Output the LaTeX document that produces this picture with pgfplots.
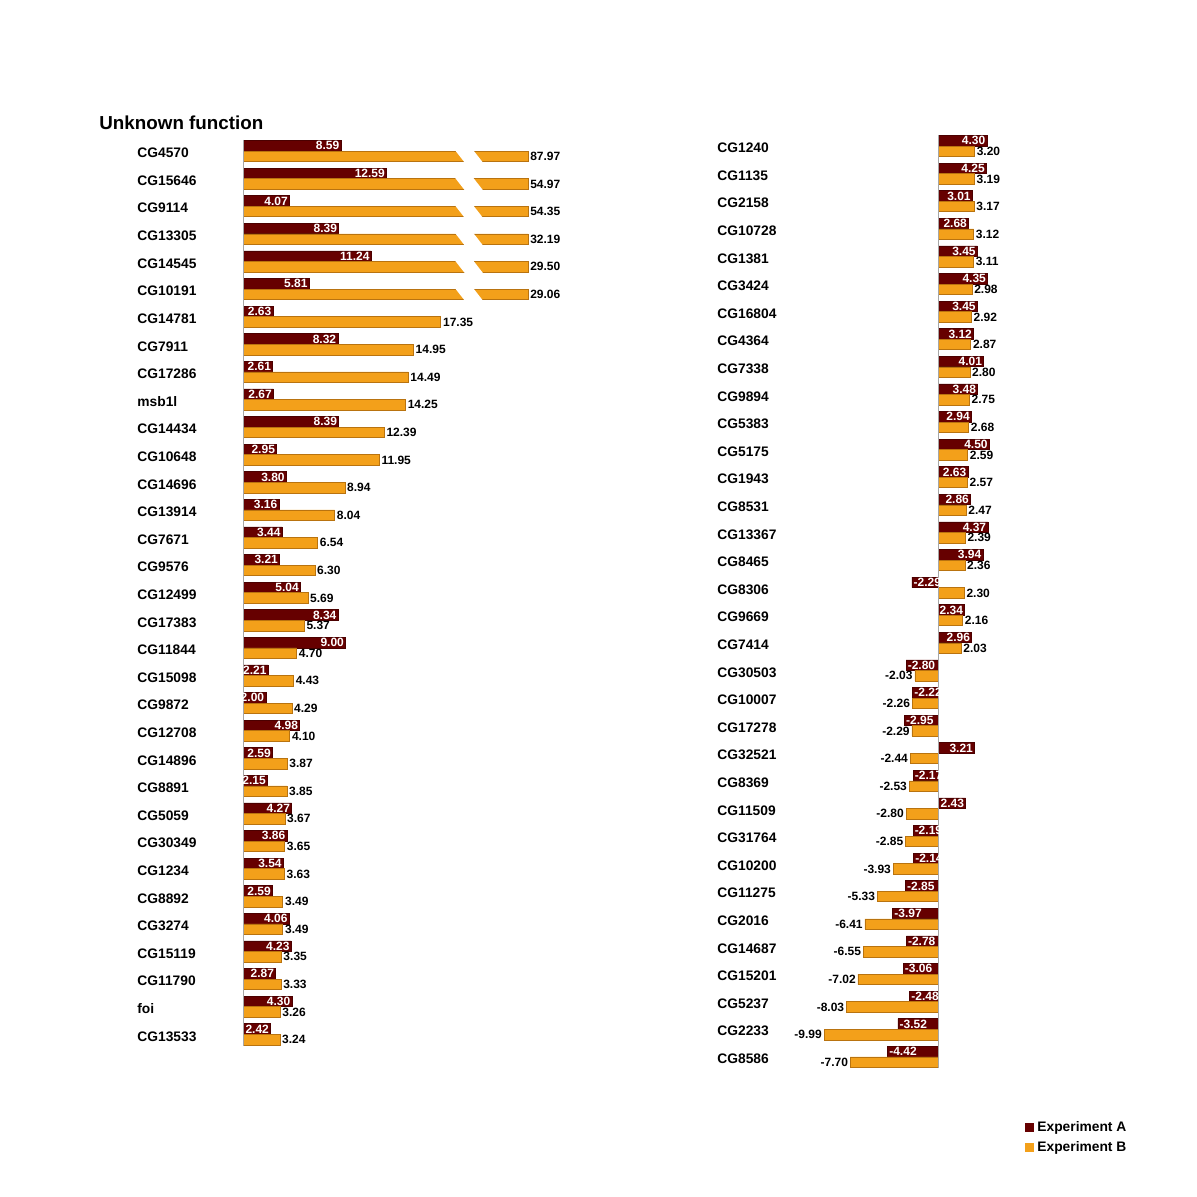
\documentclass[border=0pt]{standalone}
\usepackage{fontspec}
\setmainfont{Liberation Sans}
\usepackage{pgfplots}
\pgfplotsset{compat=1.18}
\usepackage{pgfplotstable}

\definecolor{expA}{RGB}{102,0,0}
\definecolor{expAline}{RGB}{75,0,0}
\definecolor{expB}{RGB}{243,160,26}
\definecolor{expBline}{RGB}{185,115,15}

% left panel: B values above 25 are drawn cut at 25 (broken bars)
\pgfplotstableread{
idx A B Blen
0 8.59 87.97 25
1 12.59 54.97 25
2 4.07 54.35 25
3 8.39 32.19 25
4 11.24 29.50 25
5 5.81 29.06 25
6 2.63 17.35 17.35
7 8.32 14.95 14.95
8 2.61 14.49 14.49
9 2.67 14.25 14.25
10 8.39 12.39 12.39
11 2.95 11.95 11.95
12 3.80 8.94 8.94
13 3.16 8.04 8.04
14 3.44 6.54 6.54
15 3.21 6.30 6.30
16 5.04 5.69 5.69
17 8.34 5.37 5.37
18 9.00 4.70 4.70
19 2.21 4.43 4.43
20 2.00 4.29 4.29
21 4.98 4.10 4.10
22 2.59 3.87 3.87
23 2.15 3.85 3.85
24 4.27 3.67 3.67
25 3.86 3.65 3.65
26 3.54 3.63 3.63
27 2.59 3.49 3.49
28 4.06 3.49 3.49
29 4.23 3.35 3.35
30 2.87 3.33 3.33
31 4.30 3.26 3.26
32 2.42 3.24 3.24
}\lefttab

\pgfplotstableread{
idx A B
0 4.30 3.20
1 4.25 3.19
2 3.01 3.17
3 2.68 3.12
4 3.45 3.11
5 4.35 2.98
6 3.45 2.92
7 3.12 2.87
8 4.01 2.80
9 3.48 2.75
10 2.94 2.68
11 4.50 2.59
12 2.63 2.57
13 2.86 2.47
14 4.37 2.39
15 3.94 2.36
16 -2.29 2.30
17 2.34 2.16
18 2.96 2.03
19 -2.80 -2.03
20 -2.22 -2.26
21 -2.95 -2.29
22 3.21 -2.44
23 -2.17 -2.53
24 2.43 -2.80
25 -2.19 -2.85
26 -2.14 -3.93
27 -2.85 -5.33
28 -3.97 -6.41
29 -2.78 -6.55
30 -3.06 -7.02
31 -2.48 -8.03
32 -3.52 -9.99
33 -4.42 -7.70
}\righttab

\pgfplotsset{
  genebars/.style={
    scale only axis, xbar, y dir=reverse, clip=false,
    bar width=5.25pt,
    axis line style={draw=none}, major tick length=0pt, xtick=\empty,
    yticklabel style={anchor=west, inner sep=0pt,
      font=\bfseries\fontsize{6.9}{7}\selectfont},
    nodes near coords={\pgfmathprintnumber[fixed,fixed zerofill,precision=2,assume math mode=true]{\pgfplotspointmeta}},
  },
  barA/.style={fill=expA, draw=expAline, line width=0.3pt, bar shift=2.65pt,
    point meta=x,
    nodes near coords style={text=white, inner sep=0.7pt,
      font=\bfseries\fontsize{6}{6}\selectfont}},
  barB/.style={fill=expB, draw=expBline, line width=0.3pt, bar shift=-2.65pt,
    nodes near coords style={text=black, inner sep=1pt,
      font=\bfseries\fontsize{6}{6}\selectfont}},
}

\begin{document}
\begin{tikzpicture}
\fill[white] (0,0) rectangle (598.5pt,598.5pt);
\useasboundingbox (0,0) rectangle (598.5pt,598.5pt);

\node[anchor=west, inner sep=0pt, font=\bfseries\fontsize{9.4}{10}\selectfont]
  at (49.5pt,537pt) {Unknown function};

% left panel
\begin{axis}[genebars,
  at={(121.5pt,528.5pt)}, anchor=north west,
  width=142.5pt, height=453.1pt,
  xmin=0, xmax=25, ymin=-0.4, ymax=32.43,
  ytick={0,...,32},
  yticklabels={CG4570,CG15646,CG9114,CG13305,CG14545,CG10191,CG14781,CG7911,
    CG17286,msb1l,CG14434,CG10648,CG14696,CG13914,CG7671,CG9576,CG12499,
    CG17383,CG11844,CG15098,CG9872,CG12708,CG14896,CG8891,CG5059,CG30349,
    CG1234,CG8892,CG3274,CG15119,CG11790,foi,CG13533},
  yticklabel style={xshift=-53pt, yshift=-1pt},
]
\addplot[barA, nodes near coords style={anchor=east}] table[x=A, y=idx] {\lefttab};
\addplot[barB, point meta=explicit, nodes near coords style={anchor=west}]
  table[x=Blen, y=idx, meta=B] {\lefttab};
\pgfplotsinvokeforeach{0,...,5}{
  \fill[white] (axis cs:18.6,#1-0.03) -- (axis cs:20.2,#1-0.03)
    -- (axis cs:21.05,#1+0.42) -- (axis cs:19.45,#1+0.42) -- cycle;
}
\draw[gray!70, line width=0.4pt] (axis cs:0,-0.4) -- (axis cs:0,32.43);
\end{axis}

% right panel
\begin{axis}[genebars,
  at={(406.3pt,531pt)}, anchor=north west,
  width=91.2pt, height=466.44pt,
  xmin=-11, xmax=5, ymin=-0.4, ymax=33.4,
  ytick={0,...,33},
  yticklabels={CG1240,CG1135,CG2158,CG10728,CG1381,CG3424,CG16804,CG4364,
    CG7338,CG9894,CG5383,CG5175,CG1943,CG8531,CG13367,CG8465,CG8306,CG9669,
    CG7414,CG30503,CG10007,CG17278,CG32521,CG8369,CG11509,CG31764,CG10200,
    CG11275,CG2016,CG14687,CG15201,CG5237,CG2233,CG8586},
  yticklabel style={xshift=-47.8pt, yshift=-1pt},
]
\addplot[barA, restrict x to domain=0:20, nodes near coords style={anchor=east}]
  table[x=A, y=idx] {\righttab};
\addplot[barA, restrict x to domain=-20:0, nodes near coords style={anchor=west}]
  table[x=A, y=idx] {\righttab};
\addplot[barB, point meta=x] table[x=B, y=idx] {\righttab};
\draw[gray!70, line width=0.4pt] (axis cs:0,-0.4) -- (axis cs:0,33.4);
\end{axis}

% legend
\fill[expA] (512.5pt,32.5pt) rectangle (517pt,37pt);
\fill[expB] (512.5pt,22.5pt) rectangle (517pt,27pt);
\node[anchor=west, inner sep=0pt, font=\bfseries\fontsize{6.9}{7}\selectfont]
  at (518.5pt,34.75pt) {Experiment A};
\node[anchor=west, inner sep=0pt, font=\bfseries\fontsize{6.9}{7}\selectfont]
  at (518.5pt,24.75pt) {Experiment B};
\end{tikzpicture}
\end{document}
